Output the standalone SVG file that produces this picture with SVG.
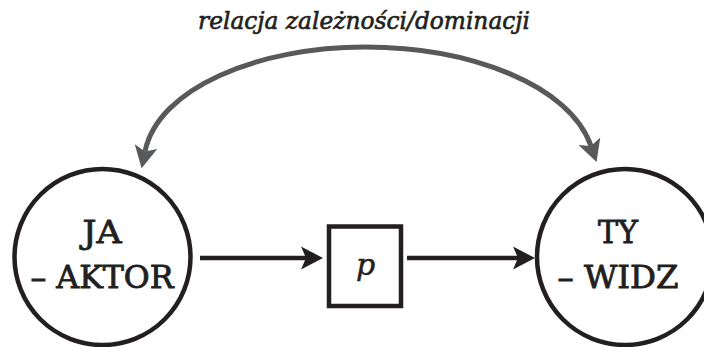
<svg xmlns="http://www.w3.org/2000/svg" width="704" height="347" viewBox="0 0 704 347">
<style>
.node{fill:none;stroke:#231f20;stroke-width:4.5}
.lbl{font-family:"DejaVu Serif","Liberation Serif",serif;font-size:32px;font-weight:normal;fill:#231f20;stroke:#231f20;stroke-width:0.9;text-anchor:middle}
.pl{font-family:"DejaVu Serif","Liberation Serif",serif;font-size:30px;font-style:italic;fill:#231f20;stroke:#231f20;stroke-width:0.5;text-anchor:middle}
.conn{fill:none;stroke:#231f20;stroke-width:4.5}
.rel{fill:none;stroke:#58595b;stroke-width:5}
.title{font-family:"DejaVu Serif","Liberation Serif",serif;font-style:italic;font-weight:normal;font-stretch:condensed;font-size:25px;fill:#231f20;stroke:#231f20;stroke-width:0.6;text-anchor:middle}
</style>
<defs>
<marker id="ab" viewBox="0 -12 24 24" refX="5" refY="0" markerWidth="24" markerHeight="24" markerUnits="userSpaceOnUse" orient="auto">
<path d="M0,-11.5 L22,0 L0,11.5 L5,0 Z" fill="#231f20"/>
</marker>
<marker id="ag" viewBox="0 -12 24 24" refX="5" refY="0" markerWidth="24" markerHeight="24" markerUnits="userSpaceOnUse" orient="auto-start-reverse">
<path d="M0,-11.5 L22,0 L0,11.5 L5,0 Z" fill="#58595b"/>
</marker>
</defs>
<text class="title" x="364" y="28.5" textLength="332" lengthAdjust="spacingAndGlyphs">relacja zależności/dominacji</text>
<g id="connectors">
<path class="rel" d="M145,151.5 C158,88 258,47 365,47 C470,47 570,85 591,146" marker-start="url(#ag)" marker-end="url(#ag)"/>
<line class="conn" x1="200" y1="258" x2="306" y2="258" marker-end="url(#ab)"/>
<line class="conn" x1="407" y1="258" x2="518" y2="258" marker-end="url(#ab)"/>
</g>
<g id="ja">
<circle class="node" cx="102.5" cy="257" r="88"/>
<text class="lbl" x="102" y="243" textLength="39" lengthAdjust="spacingAndGlyphs">JA</text>
<text class="lbl" x="102" y="288" textLength="143" lengthAdjust="spacingAndGlyphs">– AKTOR</text>
</g>
<g id="p">
<rect class="node" x="329" y="226.5" width="72" height="79.5"/>
<text class="pl" x="365.5" y="275">p</text>
</g>
<g id="ty">
<circle class="node" cx="625" cy="257" r="88"/>
<text class="lbl" x="618" y="243" textLength="40" lengthAdjust="spacingAndGlyphs">TY</text>
<text class="lbl" x="618" y="288" textLength="121" lengthAdjust="spacingAndGlyphs">– WIDZ</text>
</g>
</svg>
